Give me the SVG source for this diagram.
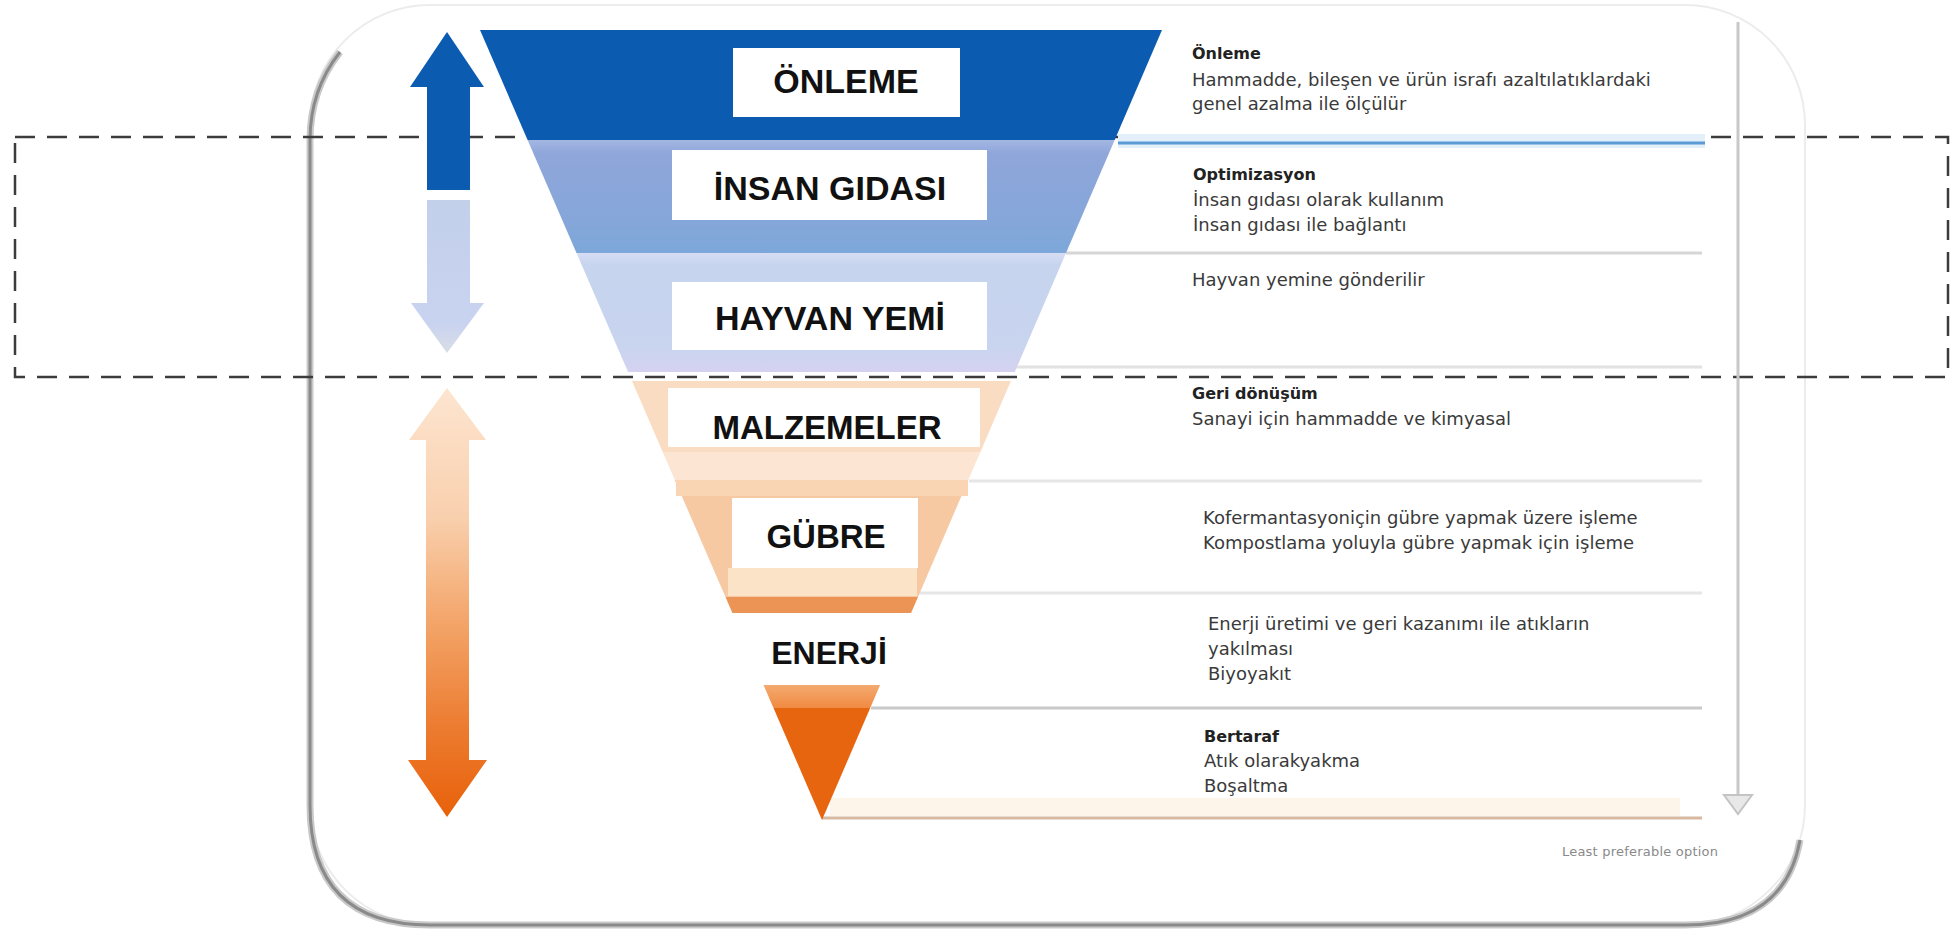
<svg xmlns="http://www.w3.org/2000/svg" width="1952" height="933" viewBox="0 0 1952 933">
<style>
.lbl{font-family:"Liberation Sans",Arial,sans-serif;font-weight:bold;fill:#111;text-anchor:middle}
.hd{font-family:"DejaVu Sans",sans-serif;font-weight:bold;font-size:16px;fill:#222}
.tx{font-family:"DejaVu Sans",sans-serif;font-size:18px;fill:#3a3a3a}
.div{fill:none;stroke-width:3}
.box{fill:#ffffff}
</style>
<defs>
<linearGradient id="gInsan" x1="0" y1="0" x2="0" y2="1">
<stop offset="0" stop-color="#a3b7e2"/>
<stop offset="0.12" stop-color="#8fa6da"/>
<stop offset="0.7" stop-color="#86a6d9"/>
<stop offset="1" stop-color="#7ca8d9"/>
</linearGradient>
<linearGradient id="gHayvan" x1="0" y1="0" x2="0" y2="1">
<stop offset="0" stop-color="#d7ddf3"/>
<stop offset="0.1" stop-color="#c6d4ee"/>
<stop offset="0.8" stop-color="#c9d4ef"/>
<stop offset="1" stop-color="#d5d2f1"/>
</linearGradient>
<linearGradient id="gEnerji" x1="0" y1="0" x2="0" y2="1">
<stop offset="0" stop-color="#f4aa70"/>
<stop offset="1" stop-color="#f08a42"/>
</linearGradient>
<linearGradient id="gOrangeArrow" gradientUnits="userSpaceOnUse" x1="0" y1="388" x2="0" y2="817">
<stop offset="0" stop-color="#fde5d0"/>
<stop offset="0.3" stop-color="#f9d0ae"/>
<stop offset="0.55" stop-color="#f3a468"/>
<stop offset="0.8" stop-color="#ec7a2e"/>
<stop offset="1" stop-color="#e8610a"/>
</linearGradient>
<linearGradient id="gLightArrow" gradientUnits="userSpaceOnUse" x1="0" y1="200" x2="0" y2="353">
<stop offset="0" stop-color="#c3d0ea"/>
<stop offset="0.8" stop-color="#c8d3f0"/>
<stop offset="1" stop-color="#d9dde6"/>
</linearGradient>
</defs>

<g id="card">
<rect x="310" y="5" width="1495" height="920" rx="120" ry="120" fill="#ffffff" stroke="#ececec" stroke-width="2"/>
<path d="M 340,52 Q 310,90 310,140 L 310,805 Q 310,925 430,925 L 1685,925 Q 1785,925 1800,840" fill="none" stroke="#c9c9c9" stroke-width="7"/>
<path d="M 340,52 Q 310,90 310,140 L 310,805 Q 310,925 430,925 L 1685,925 Q 1785,925 1800,840" fill="none" stroke="#8a8a8a" stroke-width="3"/>
</g>

<g id="selection-box">
<rect x="15" y="137" width="1933" height="240" fill="none" stroke="#3c3c3c" stroke-width="2.5" stroke-dasharray="20 12"/>
</g>

<g id="dividers">
<rect x="1118" y="134" width="587" height="14" fill="#e3eff9"/>
<line x1="1118" y1="143" x2="1705" y2="143" stroke="#5b9bd5" class="div"/>
<line x1="1066" y1="253" x2="1702" y2="253" stroke="#d6d6d6" class="div"/>
<line x1="1014" y1="367" x2="1702" y2="367" stroke="#e2e2e2" class="div"/>
<line x1="969" y1="481" x2="1702" y2="481" stroke="#e6e6e6" class="div"/>
<line x1="918" y1="593" x2="1702" y2="593" stroke="#e6e6e6" class="div"/>
<line x1="871" y1="708" x2="1702" y2="708" stroke="#c9c9c9" class="div"/>
<rect x="830" y="798" width="850" height="18" fill="#fdf4ea"/>
<line x1="822" y1="818" x2="1702" y2="818" stroke="#d6b9a0" class="div"/>
</g>

<g id="funnel">
<g id="node-onleme">
<polygon points="480,30 1162,30 1114.7,140 527.6,140" fill="#0b5cb0"/>
<rect class="box" x="733" y="48" width="227" height="69"/>
<text class="lbl" x="846" y="93" font-size="34">ÖNLEME</text>
</g>
<g id="node-insan-gidasi">
<polygon points="527.6,140 1114.7,140 1066,253 576.5,253" fill="url(#gInsan)"/>
<rect class="box" x="672" y="150" width="315" height="70"/>
<text class="lbl" x="830" y="200" font-size="34">İNSAN GIDASI</text>
</g>
<g id="node-hayvan-yemi">
<polygon points="576.5,253 1066,253 1014.8,372 628.1,372" fill="url(#gHayvan)"/>
<rect class="box" x="672" y="282" width="315" height="68"/>
<text class="lbl" x="830" y="330" font-size="34">HAYVAN YEMİ</text>
</g>
<g id="node-malzemeler">
<polygon points="632,381 1010.9,381 980.4,452 662.7,452" fill="#fadcc3"/>
<rect class="box" x="668" y="388" width="312" height="59"/>
<polygon points="662.7,452 980.4,452 968.3,480 674.8,480" fill="#fce6d3"/>
<text class="lbl" x="827" y="439" font-size="33">MALZEMELER</text>
</g>
<g id="node-gubre">
<polygon points="674.8,480 968.3,480 918,597 725.5,597" fill="#f7c9a3"/>
<rect x="676" y="480" width="292" height="16" fill="#f9d5b4"/>
<rect class="box" x="732" y="498" width="186" height="70"/>
<rect x="728" y="568" width="189" height="28" fill="#fbe3c7"/>
<polygon points="725.5,597 918,597 911.1,613 732.4,613" fill="#ec9455"/>
<text class="lbl" x="826" y="548" font-size="33">GÜBRE</text>
</g>
<g id="node-enerji">
<text class="lbl" x="829" y="664" font-size="32">ENERJİ</text>
<polygon points="763.5,685 880.1,685 870.2,708 773.5,708" fill="url(#gEnerji)"/>
</g>
<g id="node-bertaraf">
<polygon points="773.5,708 870.2,708 822,820" fill="#e8650f"/>
</g>
</g>

<g id="connectors">
<path d="M447,32 L484,87 L470,87 L470,190 L427,190 L427,87 L410,87 Z" fill="#0b5cb0"/>
<path d="M427,200 L470,200 L470,303 L484,303 L447,353 L411,303 L427,303 Z" fill="url(#gLightArrow)"/>
<path d="M447,388 L486,440 L469,440 L469,760 L487,760 L447,817 L408,760 L426,760 L426,440 L409,440 Z" fill="url(#gOrangeArrow)"/>
<line x1="1738" y1="22" x2="1738" y2="800" stroke="#c8c8c8" stroke-width="3"/>
<polygon points="1724,795 1752,795 1738,814" fill="#e8e8e8" stroke="#c4c4c4" stroke-width="2"/>
</g>

<g id="desc-onleme">
<text class="hd" x="1192" y="59">Önleme</text>
<text class="tx" x="1192" y="86">Hammadde, bileşen ve ürün israfı azaltılatıklardaki</text>
<text class="tx" x="1192" y="110">genel azalma ile ölçülür</text>
</g>
<g id="desc-insan-gidasi">
<text class="hd" x="1193" y="180">Optimizasyon</text>
<text class="tx" x="1193" y="206">İnsan gıdası olarak kullanım</text>
<text class="tx" x="1193" y="231">İnsan gıdası ile bağlantı</text>
</g>
<g id="desc-hayvan-yemi">
<text class="tx" x="1192" y="286">Hayvan yemine gönderilir</text>
</g>
<g id="desc-malzemeler">
<text class="hd" x="1192" y="399">Geri dönüşüm</text>
<text class="tx" x="1192" y="425">Sanayi için hammadde ve kimyasal</text>
</g>
<g id="desc-gubre">
<text class="tx" x="1203" y="524">Kofermantasyoniçin gübre yapmak üzere işleme</text>
<text class="tx" x="1203" y="549">Kompostlama yoluyla gübre yapmak için işleme</text>
</g>
<g id="desc-enerji">
<text class="tx" x="1208" y="630">Enerji üretimi ve geri kazanımı ile atıkların</text>
<text class="tx" x="1208" y="655">yakılması</text>
<text class="tx" x="1208" y="680">Biyoyakıt</text>
</g>
<g id="desc-bertaraf">
<text class="hd" x="1204" y="742">Bertaraf</text>
<text class="tx" x="1204" y="767">Atık olarakyakma</text>
<text class="tx" x="1204" y="792">Boşaltma</text>
</g>
<g id="legend">
<text x="1562" y="856" font-family="DejaVu Sans, sans-serif" font-size="13" fill="#8a8a8a" textLength="156" lengthAdjust="spacing">Least preferable option</text>
</g>
</svg>
